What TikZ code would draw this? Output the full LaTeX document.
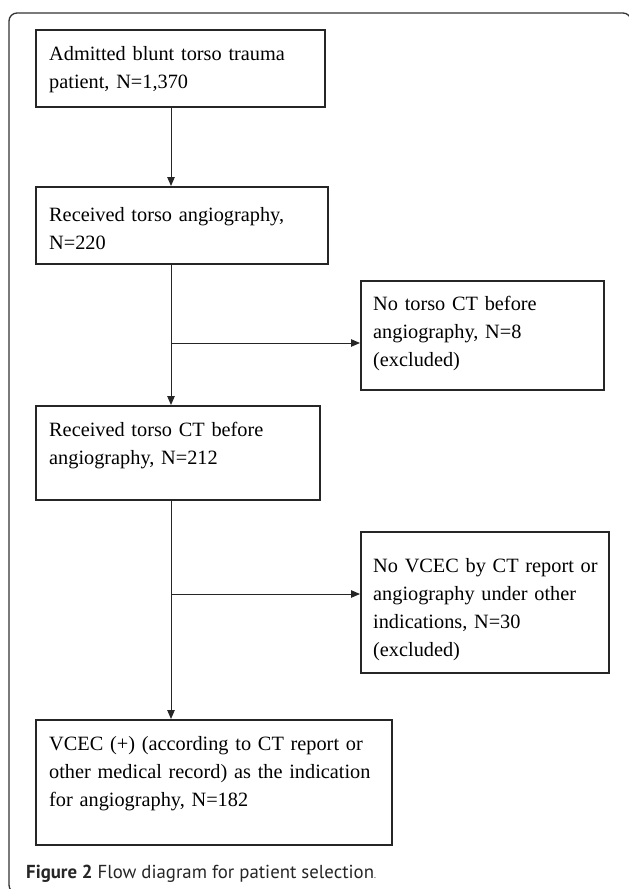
\documentclass[tikz,border=0pt]{standalone}
\usepackage{fontspec}
\setmainfont{Liberation Serif}
\setsansfont{PT Sans}
\usetikzlibrary{calc,arrows.meta}

\begin{document}
\begin{tikzpicture}[
    x=1pt, y=-1pt,
    frame/.style={draw=black!80, line width=1.3pt, rounded corners=8pt},
    flowbox/.style={draw=black!85, line width=1.5pt, inner sep=0pt, anchor=north west},
    boxtxt/.style={inner sep=0pt, anchor=base west, align=left, text width=400pt,
        font=\fontsize{20.3}{28}\selectfont},
    link/.style={line width=1pt, black!85},
    arr/.style={link, -{Triangle[length=9pt, width=7.5pt]}},
    figcap/.style={inner sep=0pt, anchor=base west, text=black!85,
        font=\sffamily\fontsize{18.8}{22}\selectfont},
]
\useasboundingbox (0,0) rectangle (629,889);
\draw[frame] (9,13) rectangle (631,893);
\node[flowbox, minimum width=289pt, minimum height=77pt] (admit) at (35,29) {};
\node[boxtxt] (admit-t) at ($(admit.north west)+(14,31)$) {Admitted blunt torso trauma\\patient, N=1,370};
\node[flowbox, minimum width=292pt, minimum height=77pt] (angio) at (35,186) {};
\node[boxtxt] (angio-t) at ($(angio.north west)+(14,35)$) {Received torso angiography,\\N=220};
\node[flowbox, minimum width=243pt, minimum height=109pt] (noct) at (360,280) {};
\node[boxtxt] (noct-t) at ($(noct.north west)+(13,30)$) {No torso CT before\\angiography, N=8\\(excluded)};
\node[flowbox, minimum width=284pt, minimum height=94pt] (ctpre) at (35,405) {};
\node[boxtxt] (ctpre-t) at ($(ctpre.north west)+(14,31)$) {Received torso CT before\\angiography, N=212};
\node[flowbox, minimum width=248pt, minimum height=141pt] (novcec) at (360,531) {};
\node[boxtxt] (novcec-t) at ($(novcec.north west)+(13,41)$) {No VCEC by CT report or\\angiography under other\\indications, N=30\\(excluded)};
\node[flowbox, minimum width=356pt, minimum height=125pt] (vcec) at (35,719) {};
\node[boxtxt] (vcec-t) at ($(vcec.north west)+(14,31)$) {VCEC (+) (according to CT report or\\other medical record) as the indication\\for angiography, N=182};
\coordinate (spine) at (171,0);
\coordinate (split1) at (171,343);
\coordinate (split2) at (171,594);
\draw[arr] (admit.south -| spine) -- (angio.north -| spine);
\draw[arr] (angio.south -| spine) -- (ctpre.north -| spine);
\draw[arr] (ctpre.south -| spine) -- (vcec.north -| spine);
\draw[arr] (split1) -- (split1 -| noct.west);
\draw[arr] (split2) -- (split2 -| novcec.west);
\node[figcap] (caption) at (26,878) {\textbf{Figure 2} Flow diagram for patient selection{\small .}};
\end{tikzpicture}
\end{document}
